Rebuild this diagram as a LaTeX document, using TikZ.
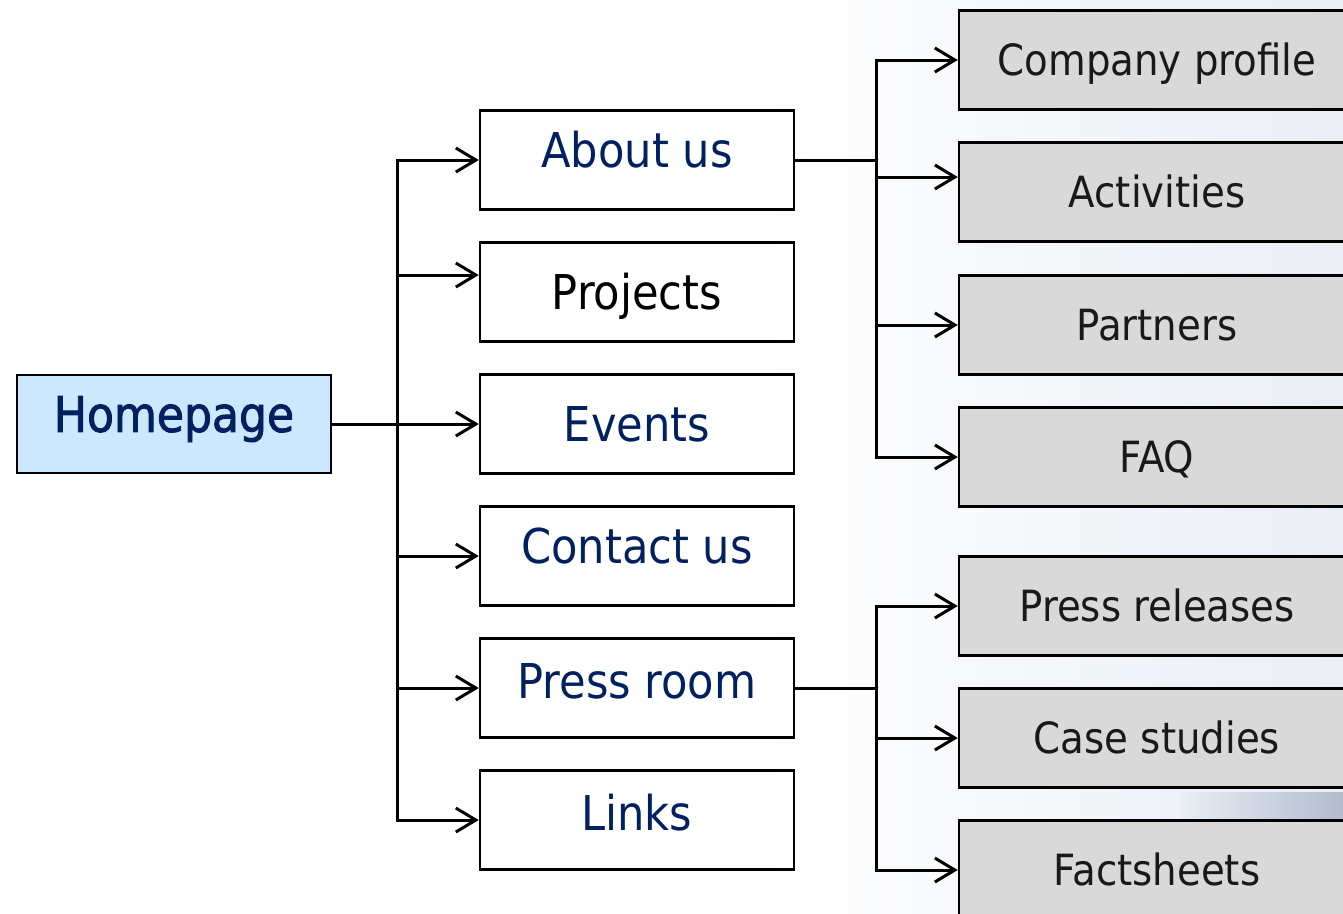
\documentclass[tikz,border=0pt]{standalone}
\usepackage{fontspec}
\setmainfont{DejaVu Sans Condensed}
\newfontfamily\homefont[FakeBold=1.8]{DejaVu Sans Condensed}
\usetikzlibrary{arrows.meta,calc}
\definecolor{navy}{RGB}{0,32,96}
\definecolor{homefill}{RGB}{204,232,255}
\definecolor{subfill}{RGB}{217,217,217}
\definecolor{bgtint}{RGB}{234,238,245}
\definecolor{streak}{RGB}{178,188,206}
\begin{document}
\begin{tikzpicture}[x=1pt,y=-1pt,
  box/.style={draw=black,line width=2.5pt,rectangle,inner sep=0pt},
  homebox/.style={box,fill=homefill,minimum width=314pt,minimum height=98pt,
    font=\homefont\fontsize{49}{58}\selectfont,text=navy,text height=35.7pt,text depth=0pt},
  midbox/.style={box,minimum width=314pt,minimum height=99pt,
    font=\fontsize{48}{58}\selectfont,text=navy,text height=35pt,text depth=0pt},
  subbox/.style={box,fill=subfill,minimum width=396pt,minimum height=99pt,
    font=\fontsize{43}{52}\selectfont,text=black!90,text height=31.3pt,text depth=0pt},
  arr/.style={line width=3pt,-{Straight Barb[length=20pt,width=24pt,line width=3pt]}},
  conn/.style={line width=3pt}]
\useasboundingbox (0,0) rectangle (1343,913);
% background
\shade[left color=white,right color=bgtint] (760,0) rectangle (1343,913);
\shade[left color=bgtint,right color=streak] (1180,792) rectangle (1343,822);
% nodes
\node[homebox,text depth=20pt] (home) at (174,424) {Homepage};
\node[midbox,text depth=20pt] (about) at (637,160) {About us};
\node[midbox,text=black] (projects) at (637,292) {Projects};
\node[midbox] (events) at (637,424) {Events};
\node[midbox,text depth=20pt] (contact) at (637,556) {Contact us};
\node[midbox,text depth=14pt] (press) at (637,688) {Press room};
\node[midbox,text depth=14pt] (links) at (637,820) {Links};
\node[subbox] (profile) at (1157,60) {Company profile};
\node[subbox] (activities) at (1157,192) {Activities};
\node[subbox] (partners) at (1157,325) {Partners};
\node[subbox] (faq) at (1157,457) {FAQ};
\node[subbox] (releases) at (1157,606) {Press releases};
\node[subbox] (cases) at (1157,738) {Case studies};
\node[subbox] (facts) at (1157,870) {Factsheets};
% trunk coordinates
\coordinate (ta) at (397,160);
\coordinate (tb) at (397,820);
\coordinate (ua) at (876,60);
\coordinate (ub) at (876,457);
\coordinate (va) at (876,606);
\coordinate (vb) at (876,870);
\coordinate (pa) at ([yshift=17pt]projects.west);
\coordinate (aa) at ([yshift=15pt]activities.west);
% connectors
\draw[conn,line cap=rect] (ta) -- (tb);
\draw[arr] (home) -- (events);
\draw[arr] (about.west -| ta) -- (about.west);
\draw[arr] (pa -| ta) -- (pa);
\draw[arr] (contact.west -| ta) -- (contact.west);
\draw[arr] (press.west -| ta) -- (press.west);
\draw[arr] (links.west -| ta) -- (links.west);
\draw[conn,line cap=rect] (ua) -- (ub);
\draw[conn] (about.east) -- (about.east -| ua);
\draw[arr] (profile.west -| ua) -- (profile.west);
\draw[arr] (aa -| ua) -- (aa);
\draw[arr] (partners.west -| ua) -- (partners.west);
\draw[arr] (faq.west -| ua) -- (faq.west);
\draw[conn,line cap=rect] (va) -- (vb);
\draw[conn] (press.east) -- (press.east -| va);
\draw[arr] (releases.west -| va) -- (releases.west);
\draw[arr] (cases.west -| va) -- (cases.west);
\draw[arr] (facts.west -| va) -- (facts.west);
\end{tikzpicture}
\end{document}
